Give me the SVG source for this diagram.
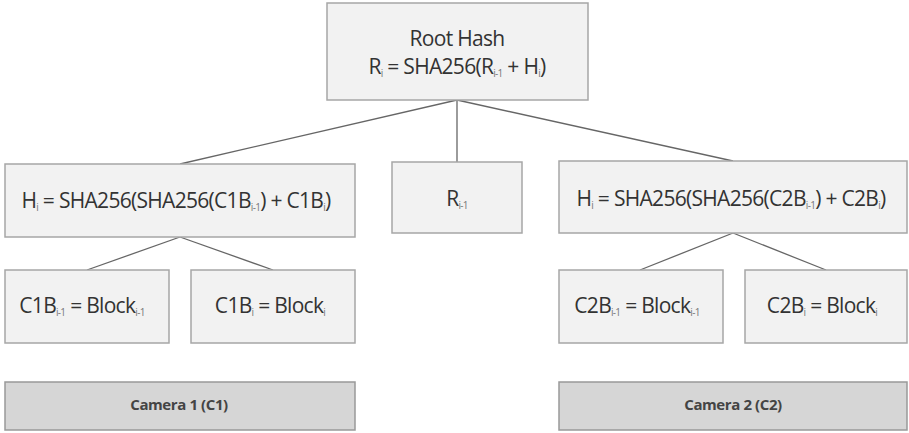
<svg xmlns="http://www.w3.org/2000/svg" width="909" height="433" viewBox="0 0 909 433">
<style>
.box{fill:#f2f2f2;stroke:#a6a6a6;stroke-width:1.5}
.cam{fill:#d6d6d6;stroke:#999;stroke-width:1.5}
.t{font-family:"Open Sans","Liberation Sans",sans-serif;font-size:21px;fill:#333;text-anchor:middle;letter-spacing:-0.7px}
.c{font-family:"Open Sans","Liberation Sans",sans-serif;font-size:15px;font-weight:bold;fill:#444;text-anchor:middle;letter-spacing:-0.4px}
.s{font-size:10px;fill:#777}
.conn line{stroke:#666;stroke-width:1.3}
</style>
<rect width="909" height="433" fill="#fff"/>
<g class="conn">
<line x1="457" y1="100" x2="180" y2="164"/>
<line x1="457" y1="100" x2="457" y2="162"/>
<line x1="457" y1="100" x2="733" y2="161"/>
<line x1="180" y1="237" x2="87" y2="270"/>
<line x1="180" y1="237" x2="273" y2="270"/>
<line x1="733" y1="233" x2="640" y2="270"/>
<line x1="733" y1="233" x2="826" y2="270"/>
</g>
<g id="root">
<rect class="box" x="327" y="3" width="261" height="97"/>
<text class="t" x="457" y="46">Root Hash</text>
<text class="t" x="457" y="74">R<tspan class="s" dy="3">i</tspan><tspan dy="-3"> = SHA256(R</tspan><tspan class="s" dy="3">i-1</tspan><tspan dy="-3"> + H</tspan><tspan class="s" dy="3">i</tspan><tspan dy="-3">)</tspan></text>
</g>
<g id="h1">
<rect class="box" x="5" y="164" width="350" height="73"/>
<text class="t" x="176" y="208">H<tspan class="s" dy="3">i</tspan><tspan dy="-3"> = SHA256(SHA256(C1B</tspan><tspan class="s" dy="3">i-1</tspan><tspan dy="-3">) + C1B</tspan><tspan class="s" dy="3">i</tspan><tspan dy="-3">)</tspan></text>
</g>
<g id="rprev">
<rect class="box" x="392" y="162" width="130" height="71"/>
<text class="t" x="457" y="206">R<tspan class="s" dy="3">i-1</tspan></text>
</g>
<g id="h2">
<rect class="box" x="559" y="161" width="348" height="72"/>
<text class="t" x="731" y="206">H<tspan class="s" dy="3">i</tspan><tspan dy="-3"> = SHA256(SHA256(C2B</tspan><tspan class="s" dy="3">i-1</tspan><tspan dy="-3">) + C2B</tspan><tspan class="s" dy="3">i</tspan><tspan dy="-3">)</tspan></text>
</g>
<g id="c1b1">
<rect class="box" x="5" y="270" width="164" height="73"/>
<text class="t" x="82" y="313">C1B<tspan class="s" dy="3">i-1</tspan><tspan dy="-3"> = Block</tspan><tspan class="s" dy="3">i-1</tspan></text>
</g>
<g id="c1b2">
<rect class="box" x="191" y="270" width="164" height="73"/>
<text class="t" x="270" y="313">C1B<tspan class="s" dy="3">i</tspan><tspan dy="-3"> = Block</tspan><tspan class="s" dy="3">i</tspan></text>
</g>
<g id="c2b1">
<rect class="box" x="559" y="270" width="164" height="73"/>
<text class="t" x="637" y="313">C2B<tspan class="s" dy="3">i-1</tspan><tspan dy="-3"> = Block</tspan><tspan class="s" dy="3">i-1</tspan></text>
</g>
<g id="c2b2">
<rect class="box" x="745" y="270" width="162" height="73"/>
<text class="t" x="822" y="313">C2B<tspan class="s" dy="3">i</tspan><tspan dy="-3"> = Block</tspan><tspan class="s" dy="3">i</tspan></text>
</g>
<g id="cam1">
<rect class="cam" x="5" y="382" width="350" height="48"/>
<text class="c" x="179" y="410">Camera 1 (C1)</text>
</g>
<g id="cam2">
<rect class="cam" x="559" y="382" width="348" height="48"/>
<text class="c" x="733" y="410">Camera 2 (C2)</text>
</g>
</svg>
